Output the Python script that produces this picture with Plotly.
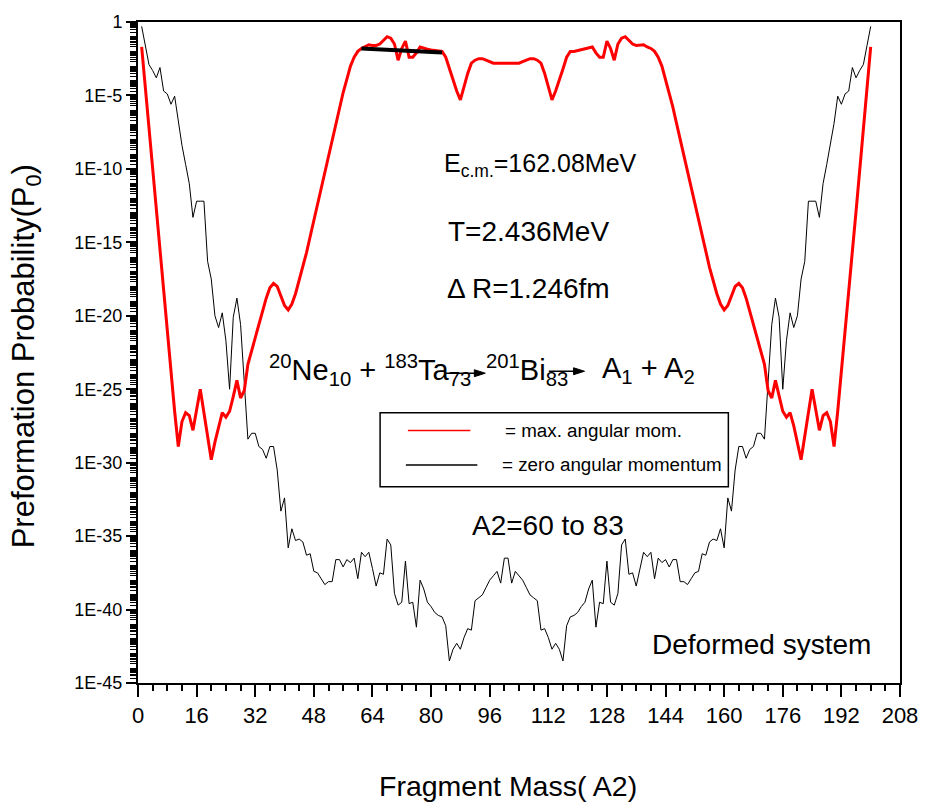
import plotly.graph_objects as go

# ---------------- data ----------------
mass_A2 = list(range(1, 201))

# log10 of preformation probability, maximum angular momentum (red)
red_log10 = [
    -1.7, -4.5, -7.3, -10.1, -12.9, -15.6, -18.4, -21.2, -23.9, -26.5,
    -28.9, -27.2, -26.6, -26.8, -27.8, -26.4, -25.0, -26.6, -28.2, -29.8,
    -28.6, -27.5, -26.6, -26.9, -26.5, -25.5, -24.4, -25.6, -25.1, -23.3,
    -22.4, -21.5, -20.6, -19.7, -18.8, -18.1, -17.8, -18.0, -18.7, -19.3,
    -19.6, -19.2, -18.5, -17.6, -16.7, -15.7, -14.6, -13.5, -12.4, -11.3,
    -10.2, -9.1, -8.0, -6.9, -5.8, -4.8, -3.9, -3.0, -2.4, -2.0,
    -1.8, -1.7, -1.55, -1.6, -1.6, -1.5, -1.25, -1.0, -1.1, -1.5,
    -2.6, -1.8, -1.3, -2.4, -2.4, -2.1, -1.7, -1.8, -1.85, -1.9,
    -1.95, -2.0, -2.0, -2.4, -3.2, -4.0, -4.7, -5.3, -4.4, -3.5,
    -2.8, -2.6, -2.5, -2.5, -2.6, -2.7, -2.8, -2.8, -2.8, -2.8,
    -2.8, -2.8, -2.8, -2.8, -2.7, -2.6, -2.5, -2.5, -2.6, -2.8,
    -3.5, -4.4, -5.3, -4.7, -4.0, -3.2, -2.4, -2.0, -2.0, -1.95,
    -1.9, -1.85, -1.8, -1.7, -2.1, -2.4, -2.4, -1.3, -1.8, -2.6,
    -1.5, -1.1, -1.0, -1.25, -1.5, -1.6, -1.6, -1.55, -1.7, -1.8,
    -2.0, -2.4, -3.0, -3.9, -4.8, -5.8, -6.9, -8.0, -9.1, -10.2,
    -11.3, -12.4, -13.5, -14.6, -15.7, -16.7, -17.6, -18.5, -19.2, -19.6,
    -19.3, -18.7, -18.0, -17.8, -18.1, -18.8, -19.7, -20.6, -21.5, -22.4,
    -23.3, -25.1, -25.6, -24.4, -25.5, -26.5, -26.9, -26.6, -27.5, -28.6,
    -29.8, -28.2, -26.6, -25.0, -26.4, -27.8, -26.8, -26.6, -27.2, -28.9,
    -26.5, -23.9, -21.2, -18.4, -15.6, -12.9, -10.1, -7.3, -4.5, -1.7,
]

# log10 of preformation probability, zero angular momentum (black)
black_log10 = [
    -0.3, -1.6, -2.9, -3.3, -3.8, -3.1, -4.7, -4.9, -5.6, -5.05,
    -6.9, -8.4, -9.7, -11.0, -13.3, -12.2, -12.2, -12.2, -16.3, -17.5,
    -20.0, -20.8, -19.8, -21.7, -25.0, -20.1, -18.8, -20.6, -24.5, -28.4,
    -28.0, -28.0, -28.9, -29.1, -29.7, -28.9, -28.9, -30.5, -33.3, -32.4,
    -35.8, -34.5, -35.3, -35.2, -35.4, -36.3, -36.2, -37.4, -37.5, -37.9,
    -38.3, -38.1, -38.1, -36.6, -36.6, -37.1, -36.6, -36.8, -36.5, -37.9,
    -36.1, -36.4, -36.1, -37.2, -38.4, -37.5, -37.6, -35.2, -35.6, -38.9,
    -39.7, -39.5, -36.7, -39.6, -39.5, -41.2, -38.0, -38.6, -39.5, -39.8,
    -40.2, -40.4, -40.5, -41.1, -43.5, -42.7, -42.3, -42.7, -41.9, -41.3,
    -41.4, -39.4, -39.2, -39.0, -38.5, -38.0, -37.7, -37.4, -38.2, -36.5,
    -36.5, -38.2, -37.4, -37.7, -38.0, -38.5, -39.0, -39.2, -39.4, -41.4,
    -41.3, -41.9, -42.7, -42.3, -42.7, -43.5, -41.1, -40.5, -40.4, -40.2,
    -39.8, -39.5, -38.6, -38.0, -41.2, -39.5, -39.6, -36.7, -39.5, -39.7,
    -38.9, -35.6, -35.2, -37.6, -37.5, -38.4, -37.2, -36.1, -36.4, -36.1,
    -37.9, -36.5, -36.8, -36.6, -37.1, -36.6, -36.6, -38.1, -38.1, -38.3,
    -37.9, -37.5, -37.4, -36.2, -36.3, -35.4, -35.2, -35.3, -34.5, -35.8,
    -32.4, -33.3, -30.5, -28.9, -28.9, -29.7, -29.1, -28.9, -28.0, -28.0,
    -28.4, -24.5, -20.6, -18.8, -20.1, -25.0, -21.7, -19.8, -20.8, -20.0,
    -17.5, -16.3, -12.2, -12.2, -12.2, -13.3, -11.0, -9.7, -8.4, -6.9,
    -5.05, -5.6, -4.9, -4.7, -3.1, -3.8, -3.3, -2.9, -1.6, -0.3,
]

# thick black segment marking A2 = 60 to 83
fit_A2 = [61, 83]
fit_log10 = [-1.8, -2.08]

x_tick_vals = [0, 16, 32, 48, 64, 80, 96, 112, 128, 144, 160, 176, 192, 208]
y_label_exponents = [0, -5, -10, -15, -20, -25, -30, -35, -40, -45]
y_tick_labels = ["1", "1E-5", "1E-10", "1E-15", "1E-20", "1E-25", "1E-30", "1E-35", "1E-40", "1E-45"]

# ---------------- figure ----------------
W, H = 930, 804
ML, MR, MT, MB = 138, 24, 13, 121
PW, PH = W - ML - MR, H - MT - MB


def px(x):
    return (x - ML) / PW


def py(y):
    return (H - MB - y) / PH


FONT = "Liberation Sans, Arial, sans-serif"

fig = go.Figure()
fig.add_trace(go.Scatter(x=mass_A2, y=[10.0 ** v for v in black_log10], mode="lines",
                         line=dict(color="black", width=1), name="zero angular momentum"))
fig.add_trace(go.Scatter(x=mass_A2, y=[10.0 ** v for v in red_log10], mode="lines",
                         line=dict(color="#ff0000", width=3), name="max. angular mom."))
fig.add_trace(go.Scatter(x=fit_A2, y=[10.0 ** v for v in fit_log10], mode="lines",
                         line=dict(color="black", width=4), name="A2=60 to 83"))

# minor ticks: every decade plus the 2..9 sub-decade marks
minor_vals = [m * 10.0 ** d for d in range(-45, 0) for m in range(1, 10)
              if not (m == 1 and d % 5 == 0)]

fig.update_xaxes(range=[0, 208], tickmode="array", tickvals=x_tick_vals,
                 ticks="outside", ticklen=12, tickwidth=2, tickcolor="black",
                 minor=dict(dtick=4, tick0=0, ticks="outside", ticklen=6, tickwidth=1.5, tickcolor="black"),
                 showline=True, linewidth=2, linecolor="black", mirror=True,
                 showgrid=False, zeroline=False,
                 tickfont=dict(family=FONT, size=22, color="black"))
fig.update_yaxes(type="log", range=[-45, 0], tickmode="array",
                 tickvals=[10.0 ** d for d in y_label_exponents], ticktext=y_tick_labels,
                 ticks="outside", ticklen=10, tickwidth=2, tickcolor="black",
                 minor=dict(tickmode="array", tickvals=minor_vals, ticks="outside",
                            ticklen=6, tickwidth=1, tickcolor="black"),
                 showline=True, linewidth=2, linecolor="black", mirror=True,
                 showgrid=False, zeroline=False,
                 tickfont=dict(family=FONT, size=18, color="black"))

ann = []
shapes = []


def text(x, y, s, size, xanchor="center", yanchor="middle", angle=0):
    ann.append(dict(x=px(x), y=py(y), xref="paper", yref="paper", text=s, showarrow=False,
                    xanchor=xanchor, yanchor=yanchor, textangle=angle,
                    font=dict(family=FONT, size=size, color="black")))


def arrow(x0, x1, y):
    shapes.append(dict(type="line", xref="paper", yref="paper", x0=px(x0), x1=px(x1 - 8),
                       y0=py(y), y1=py(y), line=dict(color="black", width=1.5)))
    path = "M %f,%f L %f,%f L %f,%f Z" % (px(x1), py(y), px(x1 - 11), py(y - 3.5),
                                          px(x1 - 11), py(y + 3.5))
    shapes.append(dict(type="path", xref="paper", yref="paper", path=path,
                       fillcolor="black", line=dict(color="black", width=1)))


text(544, 158, "E<sub>c.m.</sub>=162.08MeV", 25)
text(532, 225, "T=2.436MeV", 28)
text(532, 283, "\u0394 R=1.246fm", 28)
text(268, 366, "<sup>20</sup>Ne<sub>10</sub> + <sup>183</sup>Ta<sub>73</sub>", 29, xanchor="left")
arrow(447, 488, 369)
text(487, 366, "<sup>201</sup>Bi<sub>83</sub>", 29, xanchor="left")
arrow(552, 588, 367)
text(604, 366, "A<sub>1</sub> + A<sub>2</sub>", 29, xanchor="left")
text(506, 427, "= max. angular mom.", 18.8, xanchor="left")
text(503, 462, "= zero angular momentum", 18.8, xanchor="left")
text(551, 523, "A2=60 to 83", 28)
text(766, 644, "Deformed system", 28)
text(26, 352, "Preformation Probability(P<sub>0</sub>)", 31, angle=-90)
text(511, 787, "Fragment Mass( A2)", 28.5)

shapes += [
    dict(type="rect", xref="paper", yref="paper", x0=px(382), x1=px(733), y0=py(484), y1=py(409),
         line=dict(color="black", width=1.5)),
    dict(type="line", xref="paper", yref="paper", x0=px(410), x1=px(473), y0=py(427), y1=py(427),
         line=dict(color="#ff0000", width=1.5)),
    dict(type="line", xref="paper", yref="paper", x0=px(408), x1=px(480), y0=py(462), y1=py(462),
         line=dict(color="black", width=1.5)),
]

fig.update_layout(width=W, height=H, margin=dict(l=ML, r=MR, t=MT, b=MB),
                  paper_bgcolor="white", plot_bgcolor="white", showlegend=False,
                  font=dict(family=FONT, color="black"),
                  annotations=ann, shapes=shapes)

fig.write_html("out.html", config={"displayModeBar": False})
